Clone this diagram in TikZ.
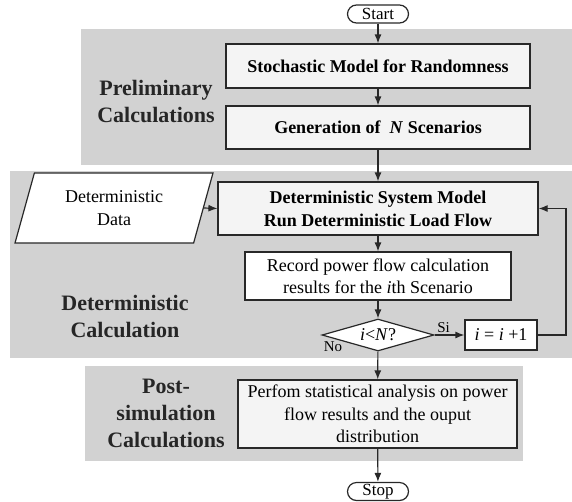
\documentclass[tikz,border=0pt]{standalone}
\usepackage{fontspec}
\setmainfont{Liberation Serif}
\usepackage{tikz}
\usetikzlibrary{arrows.meta,shapes.geometric}

\definecolor{bandgray}{RGB}{210,210,210}
\definecolor{boxfill}{RGB}{244,244,244}
\definecolor{linecol}{RGB}{40,40,40}

\begin{document}
\begin{tikzpicture}[x=1pt,y=-1pt,
		txt/.style={font=\fontsize{18}{22.5}\selectfont, align=center, inner sep=0pt},
		box/.style={txt, draw=linecol, line width=1.2pt, fill=boxfill},
		boldbox/.style={box, font=\fontsize{18}{23}\selectfont\bfseries},
		plainbox/.style={box, fill=white},
		term/.style={txt, draw=linecol, line width=1.2pt, fill=white, rounded corners=9pt,
			minimum width=61pt, minimum height=18pt, font=\fontsize{17}{20}\selectfont},
		phase/.style={font=\fontsize{22}{27}\selectfont\bfseries, align=center, text=black!85},
		arr/.style={draw=linecol, line width=1.2pt, -{Latex[length=9pt,width=7pt]}}]
		
		\useasboundingbox (0,0) rectangle (572,501);
		
		% grey phase bands
		\fill[bandgray] (81,29) rectangle (572,165);
		\fill[bandgray] (10,171) rectangle (572,358);
		\fill[bandgray] (85,366) rectangle (523,461);
		
		\node[phase] (prelim) at (156,101) {Preliminary\\Calculations};
		\node[phase] (determ) at (125,316) {Deterministic\\Calculation};
		\node[phase] (postsim) at (166,413) {Post-\\simulation\\Calculations};
		
		% main flow
		\node[term] (start) at (378,14) {Start};
		\node[boldbox, minimum width=304pt, minimum height=44pt] (stoch) at (378,66)
			{Stochastic Model for Randomness};
		\node[boldbox, minimum width=304pt, minimum height=43pt] (gen) at (378,127.5)
			{Generation of~~\textit{N} Scenarios};
		\node[boldbox, minimum width=320pt, minimum height=53pt] (dsm) at (378,208.5)
			{Deterministic System Model\\Run Deterministic Load Flow};
		\node[plainbox, minimum width=266pt, minimum height=48pt] (rec) at (378,276)
			{Record power flow calculation\\results for the \textit{i}th Scenario};
		\node[txt, draw=linecol, line width=1.2pt, fill=white, shape=diamond, aspect=3.5,
			minimum width=112pt, minimum height=32pt] (cond) at (378,335)
			{\textit{i}<\textit{N}?};
		\node[plainbox, minimum width=72pt, minimum height=30pt] (inc) at (501,335)
			{\textit{i} = \textit{i} +1};
		\node[box, minimum width=279pt, minimum height=68pt] (post) at (377.5,414)
			{Perfom statistical analysis on power\\flow results and the ouput\\distribution};
		\node[term] (stop) at (378,491.5) {Stop};
		
		% input data
		\node[txt, draw=linecol, line width=1.2pt, fill=white, shape=trapezium,
			trapezium left angle=71, trapezium right angle=109, trapezium stretches=true,
			minimum width=198pt, minimum height=70pt] (data) at (114,208)
			{Deterministic\\Data};
		
		\coordinate (loop) at (566,335);
		
		\draw[arr] (start) -- (stoch);
		\draw[arr] (stoch) -- (gen);
		\draw[arr] (gen) -- (dsm);
		\draw[arr] (data.east) -- (dsm.west);
		\draw[arr] (dsm) -- (rec);
		\draw[arr] (rec) -- (cond);
		\draw[arr] (cond) -- (inc) node[txt, pos=0.3, above=2pt, font=\fontsize{15}{18}\selectfont] (si) {Si};
		\draw[arr] (inc.east) -- (loop) |- (dsm.east);
		\draw[arr] (cond) -- (post);
		\node[txt, font=\fontsize{15}{18}\selectfont] (no) at (333,347) {No};
		\draw[arr] (post) -- (stop);
		
\end{tikzpicture}
\end{document}
